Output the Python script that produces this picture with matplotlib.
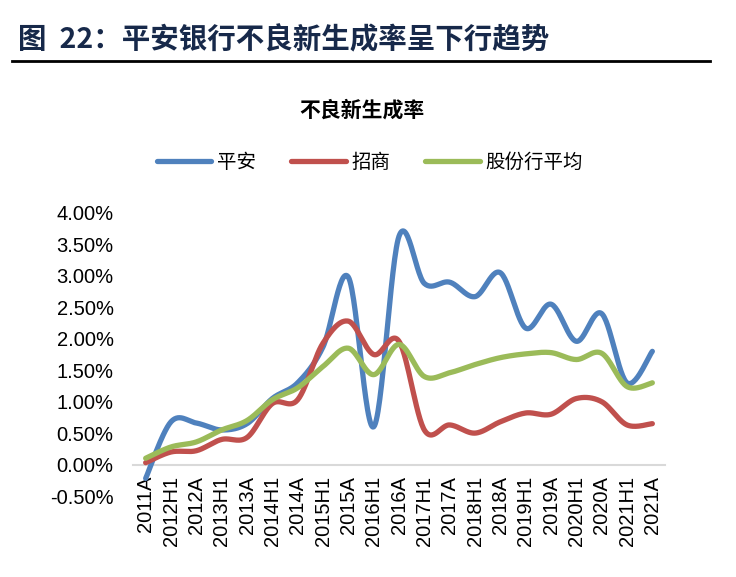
import numpy as np
import matplotlib
matplotlib.use("Agg")
import matplotlib.pyplot as plt
from matplotlib.lines import Line2D
from matplotlib.ticker import FuncFormatter

categories = ["2011A", "2012H1", "2012A", "2013H1", "2013A", "2014H1", "2014A",
              "2015H1", "2015A", "2016H1", "2016A", "2017H1", "2017A", "2018H1",
              "2018A", "2019H1", "2019A", "2020H1", "2020A", "2021H1", "2021A"]
pingan = [-0.22, 0.68, 0.66, 0.55, 0.65, 1.05, 1.30, 1.87, 2.98, 0.60, 3.63,
          2.88, 2.90, 2.67, 3.05, 2.17, 2.55, 1.96, 2.40, 1.30, 1.80]
zhaoshang = [0.03, 0.20, 0.22, 0.40, 0.43, 0.97, 1.03, 1.93, 2.28, 1.75, 1.96,
             0.55, 0.63, 0.50, 0.68, 0.82, 0.80, 1.05, 1.00, 0.63, 0.65]
gufen_avg = [0.10, 0.28, 0.36, 0.55, 0.70, 1.03, 1.22, 1.56, 1.85, 1.43, 1.91,
             1.40, 1.46, 1.59, 1.70, 1.76, 1.78, 1.67, 1.77, 1.24, 1.30]
series_names = ["平安", "招商", "股份行平均"]
colors = ["#4F81BD", "#C0504D", "#9BBB59"]
yticks = [-0.5, 0.0, 0.5, 1.0, 1.5, 2.0, 2.5, 3.0, 3.5, 4.0]

CJK = ["Noto Sans CJK SC", "DejaVu Sans"]
LAT = ["Liberation Sans", "Noto Sans CJK SC"]
plt.rcParams["font.family"] = LAT


def smooth(xs, ys, n=30):
    xs = np.asarray(xs, float)
    ys = np.asarray(ys, float)
    P = np.column_stack([xs, ys])
    P = np.vstack([P[0], P, P[-1]])
    out = []
    t = np.linspace(0, 1, n)[:, None]
    for i in range(1, len(P) - 2):
        p0, p1, p2, p3 = P[i - 1], P[i], P[i + 1], P[i + 2]
        b1 = p1 + (p2 - p0) / 6.0
        b2 = p2 - (p3 - p1) / 6.0
        seg = ((1 - t) ** 3) * p1 + 3 * ((1 - t) ** 2) * t * b1 + 3 * (1 - t) * t ** 2 * b2 + t ** 3 * p2
        out.append(seg if i == 1 else seg[1:])
    out = np.vstack(out)
    return out[:, 0], out[:, 1]


fig = plt.figure(figsize=(7.36, 5.77), dpi=100)
ax = fig.add_axes([133 / 736, 1 - 496 / 577, (665 - 133) / 736, (496 - 213) / 577])

x = np.arange(len(categories))
for vals, c in zip([pingan, zhaoshang, gufen_avg], colors):
    sx, sy = smooth(x, vals)
    ax.plot(sx, sy, color=c, lw=3.8, solid_capstyle="round", solid_joinstyle="round", zorder=3)

ax.set_xlim(-0.5, len(categories) - 0.5)
ax.set_ylim(-0.5, 4.0)
ax.set_yticks(yticks)
ax.yaxis.set_major_formatter(FuncFormatter(lambda v, p: f"{v:.2f}%"))
ax.set_xticks(x)
ax.set_xticklabels(categories)
ax.tick_params(axis="both", length=0, labelsize=14.5, labelcolor="black")
ax.tick_params(axis="y", pad=14)
ax.tick_params(axis="x", pad=8, labelrotation=90)
for s in ["top", "right", "left"]:
    ax.spines[s].set_visible(False)
ax.spines["bottom"].set_position(("data", 0))
ax.spines["bottom"].set_color("#D9D9D9")
ax.spines["bottom"].set_linewidth(1.5)
ax.spines["bottom"].set_zorder(1)

# Title and rule
fig.text(18 / 736, 1 - 40 / 577, "图  22：平安银行不良新生成率呈下行趋势", family=CJK,
         fontsize=20.5, fontweight="bold", color="#17294A", va="center", ha="left")
fig.add_artist(Line2D([12 / 736, 710 / 736], [1 - 61 / 577, 1 - 61 / 577], color="black", lw=2))

fig.text(362 / 736, 1 - 110 / 577, "不良新生成率", family=CJK, fontsize=15,
         fontweight="bold", ha="center", va="center")

handles = [Line2D([], [], color=c, lw=3.8, solid_capstyle="round") for c in colors]
leg = fig.legend(handles, series_names, loc="center", bbox_to_anchor=(370 / 736, 1 - 162 / 577),
                 ncol=3, frameon=False, prop={"family": CJK, "size": 14},
                 handlelength=2.8, handletextpad=0.3, columnspacing=1.8)

fig.savefig("out.png", dpi=100)
